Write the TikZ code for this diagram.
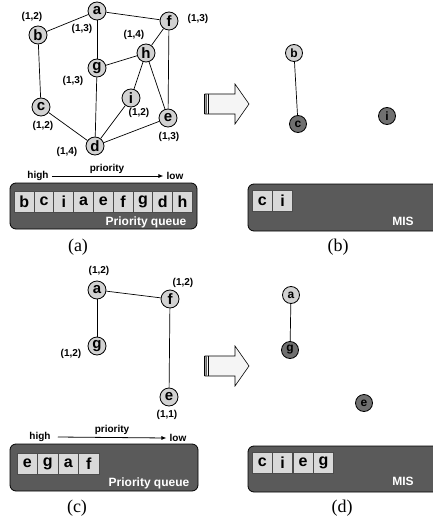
\documentclass[tikz,border=0pt]{standalone}
\usepackage{fontspec}
\setmainfont{Liberation Serif}
\newfontfamily\ariel{Liberation Sans}
\usetikzlibrary{arrows.meta}
\definecolor{lightnode}{HTML}{D2D2D2}
\definecolor{darknode}{HTML}{707070}
\definecolor{boxfill}{HTML}{5A5A5A}
\definecolor{cellfill}{HTML}{D9D9D9}
\begin{document}
\begin{tikzpicture}[x=1pt,y=-1pt,
  vtx/.style={circle,draw=black,line width=0.8pt,fill=lightnode,minimum size=18pt,inner sep=0pt,font=\ariel\bfseries\fontsize{15}{15}\selectfont},
  svtx/.style={circle,draw=black,line width=0.8pt,fill=lightnode,minimum size=17pt,inner sep=0pt,font=\ariel\bfseries\fontsize{12}{12}\selectfont},
  dvtx/.style={svtx,fill=darknode},
  lbl/.style={font=\ariel\bfseries\fontsize{10}{10}\selectfont,inner sep=0pt},
  edge/.style={line width=0.7pt},
  qbox/.style={draw=black,line width=0.8pt,fill=boxfill,rounded corners=6pt},
  cell/.style={draw=black!70,line width=0.6pt,fill=cellfill,minimum width=20.3pt,minimum height=21pt,inner sep=0pt,font=\ariel\bfseries\fontsize{16}{16}\selectfont},
  boxlbl/.style={font=\ariel\bfseries\fontsize{12}{12}\selectfont,text=white,inner sep=0pt},
  captxt/.style={font=\fontsize{18}{18}\selectfont,inner sep=0pt},
  pr/.style={font=\ariel\bfseries\fontsize{10}{10}\selectfont,inner sep=0pt},
  bigarrow/.style={draw=black,line width=0.6pt,fill=white!96!black}
]
\useasboundingbox (0,0) rectangle (433,524);

% ---------- panel (a) ----------
\node[vtx] (a) at (97,11) {a};
\node[vtx] (b) at (38,35) {b};
\node[vtx] (f) at (169,21) {f};
\node[vtx] (h) at (146,53) {h};
\node[vtx] (g) at (97,68) {g};
\node[vtx] (i) at (131,98) {i};
\node[vtx] (c) at (41,107) {c};
\node[vtx] (e) at (168,118) {e};
\node[vtx] (d) at (95,146) {d};
\draw[edge] (a) -- (b);
\draw[edge] (a) -- (f);
\draw[edge] (a) -- (g);
\draw[edge] (b) -- (c);
\draw[edge] (c) -- (d);
\draw[edge] (g) -- (d);
\draw[edge] (g) -- (h);
\draw[edge] (h) -- (f);
\draw[edge] (h) -- (i);
\draw[edge] (h) -- (e);
\draw[edge] (f) -- (e);
\draw[edge] (i) -- (d);
\draw[edge] (d) -- (e);
\node[lbl] (la) at (82,29) {(1,3)};
\node[lbl] (lb) at (32,17) {(1,2)};
\node[lbl] (lf) at (198,19) {(1,3)};
\node[lbl] (lh) at (134,35) {(1,4)};
\node[lbl] (lg) at (73,81) {(1,3)};
\node[lbl] (li) at (139,113) {(1,2)};
\node[lbl] (lc) at (43,126) {(1,2)};
\node[lbl] (le) at (169,137) {(1,3)};
\node[lbl] (ld) at (67,152) {(1,4)};

\node[pr] (hi1) at (38,176) {high};
\node[pr] (lo1) at (175,176) {low};
\node[pr] (pp1) at (107,169) {priority};
\draw[line width=0.8pt,-{Latex[length=5pt,width=4pt]}] (hi1.east) ++(3,0) -- ([xshift=-3pt]lo1.west);

\draw[qbox] (10,183) rectangle (197,229);
\foreach \t [count=\k] in {b,c,i,a,e,f,g,d,h}
  \node[cell] (qa\k) at ({14+10.15+(\k-1)*19.8},201.5) {\t};
\node[boxlbl] (pqa) at (146,222) {Priority queue};
\node[captxt] (capa) at (78,247) {(a)};

% ---------- big arrows ----------
\foreach \yc/\nm in {104/ar1,366/ar2} {
  \draw[bigarrow] (205,\yc-10) -- (235,\yc-10) -- (235,\yc-20) -- (249,\yc) -- (235,\yc+20) -- (235,\yc+10) -- (205,\yc+10) -- cycle;
  \draw[line width=0.8pt] (204,\yc-10) -- (204,\yc+10);
  \draw[line width=0.6pt,black!60] (206,\yc-10) -- (206,\yc+10);
  \draw[line width=1.4pt] (208.5,\yc-10) -- (208.5,\yc+10);
}

% ---------- panel (b) ----------
\node[svtx] (b2) at (294,53) {b};
\node[dvtx] (c2) at (298,124) {c};
\node[dvtx] (i2) at (387,116) {i};
\draw[edge] (b2) -- (c2);
\draw[qbox] (248,184) rectangle (440,231);
\foreach \t [count=\k] in {c,i}
  \node[cell] (mb\k) at ({252+10.2+(\k-1)*20.4},201) {\t};
\node[boxlbl] (misb) at (403,221) {MIS};
\node[captxt] (capb) at (338,247) {(b)};

% ---------- panel (c) ----------
\node[vtx] (a3) at (97,290) {a};
\node[vtx] (f3) at (170,299) {f};
\node[vtx] (g3) at (97,346) {g};
\node[vtx] (e3) at (169,397) {e};
\draw[edge] (a3) -- (f3);
\draw[edge] (a3) -- (g3);
\draw[edge] (f3) -- (e3);
\node[lbl] (la3) at (99,271) {(1,2)};
\node[lbl] (lf3) at (183,283) {(1,2)};
\node[lbl] (lg3) at (71,354) {(1,2)};
\node[lbl] (le3) at (167,415) {(1,1)};

\node[pr] (hi2) at (40,437) {high};
\node[pr] (lo2) at (178,438) {low};
\node[pr] (pp2) at (112,430) {priority};
\draw[line width=0.8pt,-{Latex[length=5pt,width=4pt]}] (hi2.east) ++(7,0) -- ([xshift=-3pt]lo2.west);

\draw[qbox] (10,444) rectangle (198,491);
\foreach \t [count=\k] in {e,g,a,f}
  \node[cell] (qc\k) at ({17+10.25+(\k-1)*20.5},463.5) {\t};
\node[boxlbl] (pqc) at (149,483) {Priority queue};
\node[captxt] (capc) at (77,508) {(c)};

% ---------- panel (d) ----------
\node[svtx] (a4) at (291,295) {a};
\node[dvtx] (g4) at (290,350) {g};
\node[dvtx] (e4) at (364,403) {e};
\draw[edge] (a4) -- (g4);
\draw[qbox] (248,446) rectangle (440,492);
\foreach \t [count=\k] in {c,i,e,g}
  \node[cell] (md\k) at ({252+10.2+(\k-1)*20.4},462.5) {\t};
\node[boxlbl] (misd) at (403,481) {MIS};
\node[captxt] (capd) at (342,508) {(d)};
\end{tikzpicture}
\end{document}
